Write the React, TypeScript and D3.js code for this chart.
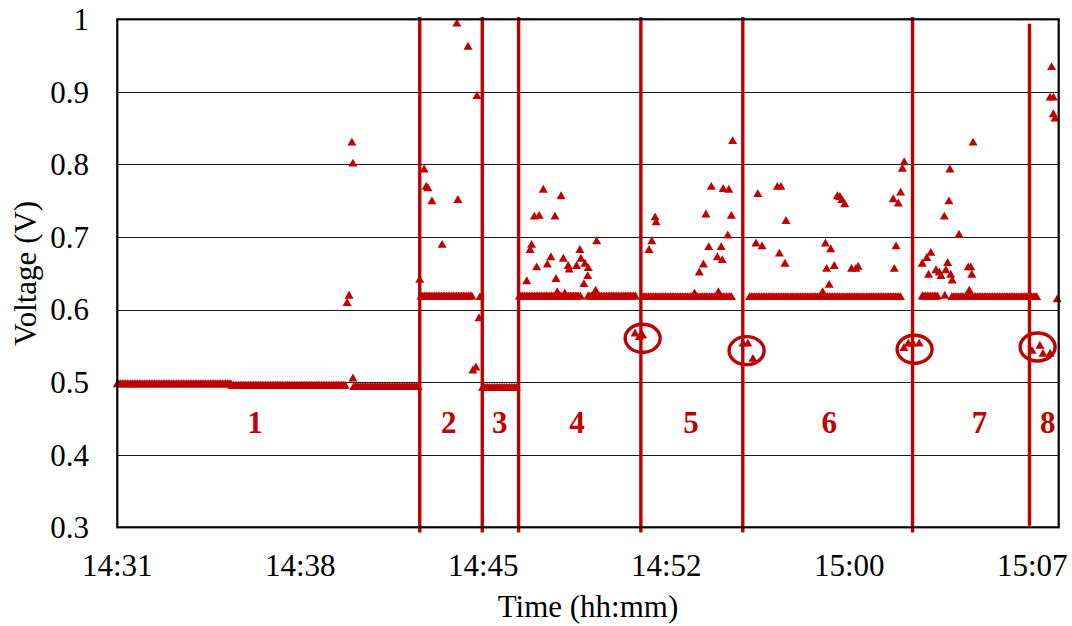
import React from "react";
import * as d3 from "d3";

// Time is measured in minutes elapsed since the logger start at 14:31:12.
const X_MAX = 37.04;
const xTickOffsets = [0, 7.2, 14.4, 21.6, 28.8, 36];
const xTickLabels = ["14:31", "14:38", "14:45", "14:52", "15:00", "15:07"];
const yTicks = [0.3, 0.4, 0.5, 0.6, 0.7, 0.8, 0.9, 1];
const yTickLabels = ["0.3", "0.4", "0.5", "0.6", "0.7", "0.8", "0.9", "1"];

// Steady readings: [start min, end min, volts], one logged sample every 4 s.
const SAMPLE_STEP_MIN = 4 / 60;
const steadyRuns: [number, number, number][] = [
  [0.0, 4.5, 0.498],
  [4.5, 9.0, 0.496],
  [9.3, 11.85, 0.494],
  [11.95, 13.95, 0.619],
  [14.37, 15.75, 0.493],
  [15.82, 18.28, 0.619],
  [18.52, 20.44, 0.619],
  [20.7, 24.21, 0.618],
  [24.88, 30.86, 0.618],
  [31.67, 32.3, 0.619],
  [32.84, 36.22, 0.618],
];

// Individual excursions from the steady level: [min, volts].
const excursions: [number, number][] = [
  // interval 1
  [9.04, 0.61], [9.12, 0.62], [9.23, 0.831], [9.27, 0.802], [9.27, 0.506],
  // interval 2
  [11.9, 0.642], [12.07, 0.794], [12.15, 0.77], [12.22, 0.768], [12.38, 0.75],
  [12.78, 0.69], [13.36, 0.995], [13.4, 0.752], [13.8, 0.963], [13.99, 0.517],
  [14.11, 0.521], [14.15, 0.895], [14.23, 0.589], [14.27, 0.618],
  // interval 4
  [16.11, 0.64], [16.24, 0.683], [16.3, 0.69], [16.41, 0.729], [16.5, 0.659],
  [16.6, 0.73], [16.76, 0.766], [16.92, 0.663], [17.06, 0.673], [17.22, 0.729],
  [17.26, 0.643], [17.31, 0.625], [17.46, 0.757], [17.55, 0.671], [17.61, 0.623],
  [17.74, 0.661], [17.78, 0.656], [18.07, 0.661], [18.2, 0.683], [18.24, 0.671],
  [18.36, 0.636], [18.4, 0.664], [18.51, 0.647], [18.53, 0.658], [18.82, 0.627],
  [18.86, 0.695],
  [20.37, 0.568], [20.54, 0.563], [20.67, 0.565],
  // interval 5
  [20.92, 0.683], [21.03, 0.695], [21.16, 0.728], [21.2, 0.721], [22.71, 0.623],
  [22.9, 0.652], [23.06, 0.663], [23.16, 0.732], [23.27, 0.687], [23.37, 0.77],
  [23.61, 0.673], [23.65, 0.625], [23.76, 0.687], [23.8, 0.669], [23.84, 0.767],
  [24.02, 0.703], [24.06, 0.766], [24.16, 0.73], [24.21, 0.833],
  [24.62, 0.554], [24.81, 0.554], [25.01, 0.533],
  // interval 6
  [25.13, 0.692], [25.2, 0.76], [25.37, 0.688], [25.97, 0.77], [26.05, 0.678],
  [26.11, 0.77], [26.27, 0.664], [26.31, 0.723], [27.75, 0.625], [27.86, 0.692],
  [27.91, 0.657], [28.01, 0.635], [28.07, 0.684], [28.21, 0.661], [28.33, 0.757],
  [28.43, 0.756], [28.51, 0.752], [28.62, 0.746], [28.89, 0.657], [29.06, 0.657],
  [29.15, 0.66], [30.53, 0.753], [30.57, 0.657], [30.64, 0.688], [30.73, 0.747],
  [30.82, 0.762], [30.89, 0.795], [30.96, 0.804],
  [30.95, 0.548], [31.12, 0.554], [31.3, 0.554], [31.55, 0.554],
  // interval 7
  [31.67, 0.664], [31.85, 0.672], [31.92, 0.649], [32.01, 0.679], [32.21, 0.655],
  [32.34, 0.652], [32.41, 0.647], [32.54, 0.729], [32.56, 0.62], [32.6, 0.655],
  [32.67, 0.665], [32.72, 0.75], [32.76, 0.794], [32.79, 0.649], [32.85, 0.641],
  [33.12, 0.704], [33.48, 0.659], [33.52, 0.627], [33.58, 0.659], [33.62, 0.649],
  [33.67, 0.831],
  // interval 8
  [35.99, 0.544], [36.3, 0.551], [36.42, 0.54], [36.7, 0.54],
  [36.7, 0.893], [36.76, 0.935], [36.83, 0.893], [36.83, 0.87], [36.89, 0.864],
  [36.98, 0.615],
];

// Interval boundaries (minutes) and their numbering.
const dividerTimes = [11.9, 14.36, 15.79, 20.6, 24.61, 31.29, 35.89];
const intervalNames = ["1", "2", "3", "4", "5", "6", "7", "8"];
const intervalLabelTimes = [5.42, 13.04, 15.05, 18.09, 22.57, 28.01, 33.92, 36.61];

// Highlighted dips: [min, volts].
const dipMarks: [number, number][] = [
  [20.67, 0.5604],
  [24.76, 0.5434],
  [31.37, 0.5453],
  [36.21, 0.5484],
];

const RED = "#C00000";
const W = 1072;
const H = 626;
const PLOT = { left: 117.3, top: 19.3, right: 1058.7, bottom: 527.3 };
const FONT = "Liberation Serif, Times New Roman, DejaVu Serif, serif";

const triangle = "M0,-4.3L4.5,3.6L-4.5,3.6Z";

export default function App() {
  const x = d3.scaleLinear().domain([0, X_MAX]).range([PLOT.left, PLOT.right]);
  const y = d3.scaleLinear().domain([0.3, 1]).range([PLOT.bottom, PLOT.top]);

  const steadySamples: [number, number][] = steadyRuns.flatMap(([a, b, v]) =>
    d3.range(a, b + 1e-9, SAMPLE_STEP_MIN).map((t) => [t, v] as [number, number])
  );
  const points = [...steadySamples, ...excursions];

  const textStyle = { fontFamily: FONT };

  return (
    <svg
      width={W}
      height={H}
      style={{ position: "absolute", left: 0, top: 0, background: "#fff", fontFamily: FONT }}
    >
      {/* horizontal grid */}
      {yTicks.slice(1, -1).map((v) => (
        <line
          key={"g" + v}
          x1={PLOT.left}
          x2={PLOT.right}
          y1={Math.round(y(v)) + 0.5}
          y2={Math.round(y(v)) + 0.5}
          stroke="#1a1a1a"
          strokeWidth={1}
        />
      ))}

      {/* voltage samples */}
      <g fill={RED}>
        {points.map(([t, v], i) => (
          <path key={i} d={triangle} transform={`translate(${x(t)},${y(v)})`} />
        ))}
      </g>

      {/* interval dividers */}
      {dividerTimes.map((t, i) => {
        const last = i === dividerTimes.length - 1;
        return (
          <line
            key={"d" + i}
            x1={x(t)}
            x2={x(t)}
            y1={y(last ? 0.994 : 1.003)}
            y2={y(last ? 0.302 : 0.293)}
            stroke={RED}
            strokeWidth={3.4}
          />
        );
      })}

      {/* dip highlights */}
      {dipMarks.map(([t, v], i) => (
        <ellipse
          key={"e" + i}
          cx={x(t)}
          cy={y(v)}
          rx={17.5}
          ry={14}
          fill="none"
          stroke={RED}
          strokeWidth={3.4}
        />
      ))}

      {/* plot frame */}
      <rect
        x={PLOT.left}
        y={PLOT.top}
        width={PLOT.right - PLOT.left}
        height={PLOT.bottom - PLOT.top}
        fill="none"
        stroke="#000"
        strokeWidth={2.2}
      />

      {/* interval numbers */}
      {intervalNames.map((name, i) => (
        <text
          key={"n" + i}
          x={x(intervalLabelTimes[i])}
          y={y(0.4296)}
          textAnchor="middle"
          fontSize={31}
          fontWeight="bold"
          fill={RED}
          style={textStyle}
        >
          {name}
        </text>
      ))}

      {/* y axis labels */}
      {yTicks.map((v, i) => (
        <text
          key={"y" + i}
          x={89}
          y={y(v)}
          dy="0.35em"
          textAnchor="end"
          fontSize={31}
          fill="#000"
          style={textStyle}
        >
          {yTickLabels[i]}
        </text>
      ))}

      {/* x axis labels */}
      {xTickOffsets.map((t, i) => (
        <text
          key={"x" + i}
          x={x(t)}
          y={576}
          textAnchor="middle"
          fontSize={31}
          fill="#000"
          style={textStyle}
        >
          {xTickLabels[i]}
        </text>
      ))}

      <text
        x={(PLOT.left + PLOT.right) / 2}
        y={617}
        textAnchor="middle"
        fontSize={31}
        fill="#000"
        style={textStyle}
      >
        Time (hh:mm)
      </text>
      <text
        transform={`translate(36,${(PLOT.top + PLOT.bottom) / 2}) rotate(-90)`}
        textAnchor="middle"
        fontSize={31}
        fill="#000"
        style={textStyle}
      >
        Voltage (V)
      </text>
    </svg>
  );
}
